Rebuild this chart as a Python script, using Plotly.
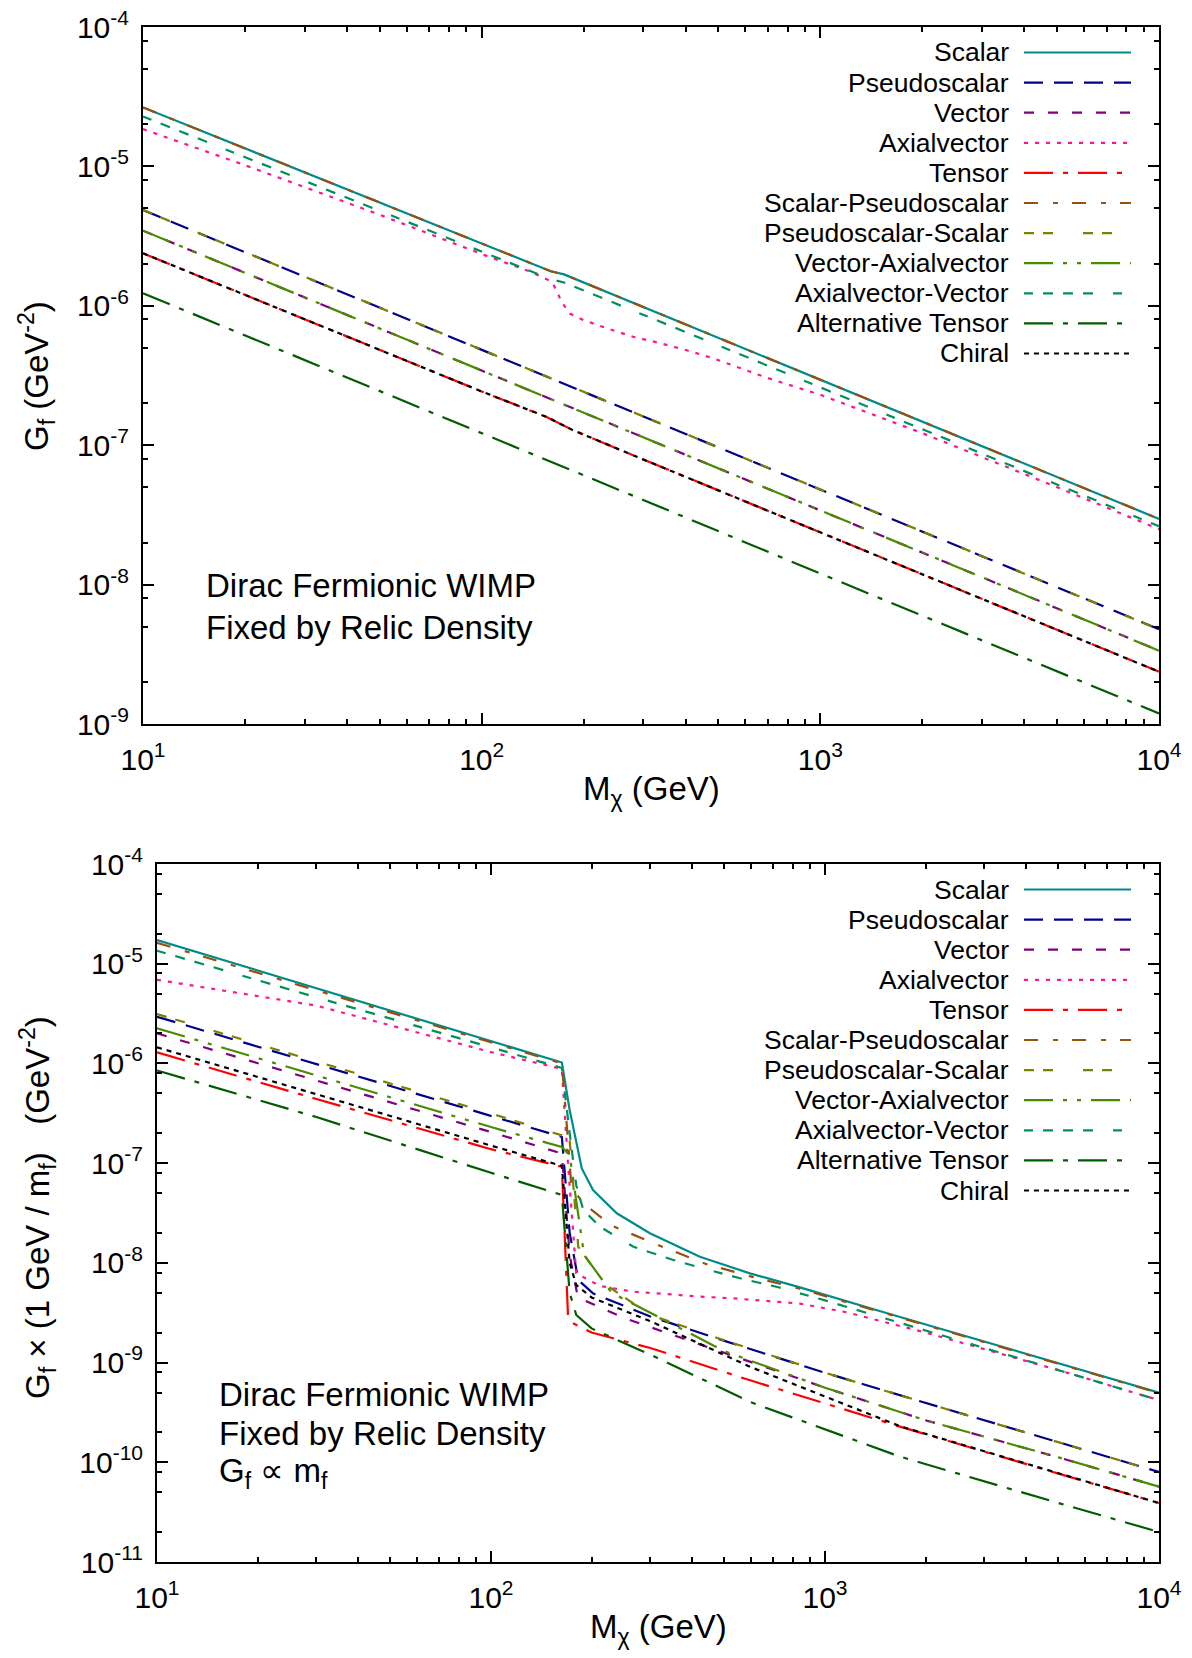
import plotly.graph_objects as go

# ---------------- data: top panel (G_f fixed by relic density) ----------------
names = ["Scalar", "Pseudoscalar", "Vector", "Axialvector", "Tensor",
         "Scalar-Pseudoscalar", "Pseudoscalar-Scalar", "Vector-Axialvector",
         "Axialvector-Vector", "Alternative Tensor", "Chiral"]

top_m_scalar = [10, 20, 50, 100, 160, 175, 200, 500, 1000, 2000, 5000, 10000]
top_scalar = [2.65e-5, 1.35e-5, 5.5e-6, 2.8e-6, 1.77e-6, 1.68e-6, 1.47e-6, 5.9e-7, 2.95e-7, 1.48e-7, 5.9e-8, 2.96e-8]
top_scalar_pseudo = [2.65e-5, 1.35e-5, 5.5e-6, 2.8e-6, 1.77e-6, 1.68e-6, 1.47e-6, 5.9e-7, 2.95e-7, 1.48e-7, 5.9e-8, 2.96e-8]
top_axial_vector = [2.28e-5, 1.17e-5, 4.8e-6, 2.45e-6, 1.55e-6, 1.47e-6, 1.29e-6, 5.2e-7, 2.6e-7, 1.3e-7, 5.2e-8, 2.62e-8]

top_m_axial = [10, 20, 50, 100, 139, 161, 166, 172, 182, 200, 234, 280, 336, 403, 483, 579, 694, 832, 1000, 2000, 5000, 10000]
top_axial = [1.85e-5, 1.02e-5, 4.5e-6, 2.35e-6, 1.76e-6, 1.49e-6, 1.30e-6, 1.07e-6, 8.8e-7, 7.9e-7, 6.9e-7, 6.0e-7,
             5.4e-7, 4.8e-7, 4.2e-7, 3.6e-7, 3.05e-7, 2.65e-7, 2.3e-7, 1.22e-7, 5.0e-8, 2.5e-8]

top_m_low = [10, 30, 100, 160, 180, 300, 1000, 3000, 10000]
top_pseudo = [4.86e-6, 1.62e-6, 4.85e-7, 3.03e-7, 2.69e-7, 1.61e-7, 4.8e-8, 1.6e-8, 4.78e-9]
top_pseudo_scalar = [4.86e-6, 1.62e-6, 4.85e-7, 3.03e-7, 2.69e-7, 1.61e-7, 4.8e-8, 1.6e-8, 4.78e-9]
top_vector = [3.46e-6, 1.15e-6, 3.45e-7, 2.15e-7, 1.9e-7, 1.14e-7, 3.4e-8, 1.13e-8, 3.36e-9]
top_vector_axial = [3.46e-6, 1.15e-6, 3.45e-7, 2.15e-7, 1.9e-7, 1.14e-7, 3.4e-8, 1.13e-8, 3.36e-9]

top_m_tensor = [10, 30, 100, 155, 185, 300, 1000, 3000, 10000]
top_tensor = [2.38e-6, 8.0e-7, 2.43e-7, 1.6e-7, 1.29e-7, 7.9e-8, 2.37e-8, 7.9e-9, 2.37e-9]
top_chiral = [2.38e-6, 8.0e-7, 2.43e-7, 1.6e-7, 1.29e-7, 7.9e-8, 2.37e-8, 7.9e-9, 2.37e-9]

top_m_alt = [10, 30, 100, 300, 1000, 3000, 10000]
top_alt_tensor = [1.23e-6, 4.1e-7, 1.22e-7, 4.05e-8, 1.2e-8, 4.0e-9, 1.19e-9]

# ---------------- data: bottom panel (G_f x (1 GeV / m_f)) ----------------
bot_m_scalar = [10, 30, 100, 163, 172, 187, 202, 238, 299, 422, 596, 841, 1500, 3000, 6000, 10000]
bot_scalar = [1.73e-5, 5.7e-6, 1.68e-6, 1.02e-6, 3.4e-7, 8.85e-8, 5.37e-8, 3.14e-8, 1.98e-8, 1.15e-8, 7.85e-9,
              5.68e-9, 3.2e-9, 1.62e-9, 8.2e-10, 5.0e-10]
bot_m_sp = [10, 30, 100, 163, 170, 174, 189, 230, 313, 442, 610, 841, 1500, 3000, 6000, 10000]
bot_scalar_pseudo = [1.62e-5, 5.4e-6, 1.62e-6, 1.0e-6, 1.7e-7, 5.8e-8, 3.95e-8, 2.36e-8, 1.53e-8, 9.7e-9, 7.2e-9,
                     5.5e-9, 3.15e-9, 1.6e-9, 8.1e-10, 4.95e-10]
bot_m_av = [10, 30, 100, 163, 172, 180, 189, 212, 267, 348, 442, 557, 725, 1000, 2000, 5000, 10000]
bot_axial_vector = [1.35e-5, 4.6e-6, 1.45e-6, 9.0e-7, 2e-7, 6e-8, 3.39e-8, 2.3e-8, 1.45e-8, 1.08e-8, 8.6e-9, 7.0e-9,
                    5.7e-9, 4.2e-9, 2.1e-9, 8.4e-10, 4.2e-10]
bot_m_axial = [10, 30, 100, 163, 170, 180, 212, 267, 336, 422, 530, 841, 1157, 2000, 5000, 10000]
bot_axial = [6.9e-6, 3.8e-6, 1.3e-6, 8.8e-7, 1e-7, 7.85e-9, 5.86e-9, 5.14e-9, 4.87e-9, 4.58e-9, 4.41e-9, 3.9e-9,
             3.2e-9, 2.0e-9, 8.4e-10, 4.2e-10]
bot_m_pseudo = [10, 30, 100, 163, 172, 182.5, 202, 300, 500, 1000, 2254, 5000, 10000]
bot_pseudo = [2.94e-6, 9.9e-7, 3.0e-7, 1.83e-7, 2e-8, 6.73e-9, 4.94e-9, 2.9e-9, 1.65e-9, 7.9e-10, 3.5e-10, 1.6e-10, 8.0e-11]
bot_m_ps = [10, 30, 100, 163, 172, 182.5, 198, 225, 300, 500, 1000, 2254, 5000, 10000]
bot_pseudo_scalar = [3.13e-6, 1.05e-6, 3.15e-7, 1.9e-7, 1.7e-7, 1.45e-8, 9.9e-9, 5.77e-9, 3.0e-9, 1.67e-9, 7.9e-10,
                     3.5e-10, 1.6e-10, 8.0e-11]
bot_m_vector = [10, 30, 100, 163, 172, 182, 250, 500, 1000, 1990, 5000, 10000]
bot_vector = [2.0e-6, 6.8e-7, 2.05e-7, 1.25e-7, 1.2e-8, 4.5e-9, 2.8e-9, 1.25e-9, 5.6e-10, 2.65e-10, 1.12e-10, 5.7e-11]
bot_m_va = [10, 30, 100, 163, 172, 190, 230, 500, 1000, 1990, 5000, 10000]
bot_vector_axial = [2.25e-6, 7.6e-7, 2.3e-7, 1.45e-7, 1.2e-7, 1.2e-8, 5e-9, 1.3e-9, 5.6e-10, 2.65e-10, 1.12e-10, 5.7e-11]
bot_m_tensor = [10, 30, 100, 163, 170, 175, 200, 300, 600, 1677, 5000, 10000]
bot_tensor = [1.29e-6, 4.4e-7, 1.38e-7, 9.2e-8, 3e-9, 2.5e-9, 2.0e-9, 1.4e-9, 6.6e-10, 2.28e-10, 7.7e-11, 3.9e-11]
bot_m_chiral = [10, 30, 100, 163, 172, 180, 200, 300, 600, 1677, 5000, 10000]
bot_chiral = [1.45e-6, 4.9e-7, 1.5e-7, 9.4e-8, 1e-8, 6e-9, 4.5e-9, 2.6e-9, 9e-10, 2.3e-10, 7.7e-11, 3.9e-11]
bot_m_alt = [10, 30, 100, 163, 172, 180, 200, 300, 600, 1677, 5000, 10000]
bot_alt_tensor = [8.5e-7, 2.9e-7, 8e-8, 4.8e-8, 5e-9, 3e-9, 2.2e-9, 1.2e-9, 4.0e-10, 1.14e-10, 3.9e-11, 2.0e-11]

x_tickvals = [10, 100, 1000, 10000]
x_ticktext = ["10<sup>1</sup>", "10<sup>2</sup>", "10<sup>3</sup>", "10<sup>4</sup>"]
top_y_exps = [-9, -8, -7, -6, -5, -4]
bot_y_exps = [-11, -10, -9, -8, -7, -6, -5, -4]

# ---------------- styles ----------------
colors = ["#008b8b", "#00008b", "#800080", "#ff1493", "#ff0000", "#9a4f0a",
          "#808000", "#4a8c00", "#00905a", "#005c00", "#000000"]
dashes = ["solid", "19px,11px", "10px,14px", "4px,7px", "29px,10px,5px,10px",
          "14px,15px,5px,14px", "10px,9px,10px,30px", "29px,10px,4px,10px,4px,10px",
          "9px,10px,10px,10px,10px,10px,10px,20px", "29px,10px,5px,10px", "5px,5px"]

top_series = [(top_m_scalar, top_scalar), (top_m_low, top_pseudo), (top_m_low, top_vector),
              (top_m_axial, top_axial), (top_m_tensor, top_tensor), (top_m_scalar, top_scalar_pseudo),
              (top_m_low, top_pseudo_scalar), (top_m_low, top_vector_axial), (top_m_scalar, top_axial_vector),
              (top_m_alt, top_alt_tensor), (top_m_tensor, top_chiral)]
bot_series = [(bot_m_scalar, bot_scalar), (bot_m_pseudo, bot_pseudo), (bot_m_vector, bot_vector),
              (bot_m_axial, bot_axial), (bot_m_tensor, bot_tensor), (bot_m_sp, bot_scalar_pseudo),
              (bot_m_ps, bot_pseudo_scalar), (bot_m_va, bot_vector_axial), (bot_m_av, bot_axial_vector),
              (bot_m_alt, bot_alt_tensor), (bot_m_chiral, bot_chiral)]

W, H = 1192, 1658
FONT = "Liberation Sans, Arial, Helvetica, sans-serif"
LW = 2.2


def px(x):
    return x / W


def py(y):
    return 1 - y / H


fig = go.Figure()
for i, (m, g) in enumerate(top_series):
    fig.add_trace(go.Scatter(x=m, y=g, mode="lines", name=names[i], showlegend=False,
                             line=dict(color=colors[i], width=LW, dash=dashes[i]),
                             xaxis="x", yaxis="y"))
for i, (m, g) in enumerate(bot_series):
    fig.add_trace(go.Scatter(x=m, y=g, mode="lines", name=names[i], showlegend=False,
                             line=dict(color=colors[i], width=LW, dash=dashes[i]),
                             xaxis="x2", yaxis="y2"))

x_minor = [k * 10 ** e for e in range(1, 4) for k in range(2, 10)]


def y_minor(exps):
    return [k * 10.0 ** e for e in exps[:-1] for k in (2, 5, 8)]


def axis_common():
    return dict(type="log", showline=True, linecolor="black", linewidth=2, mirror="ticks",
                ticks="inside", ticklen=11, tickwidth=1.5, tickcolor="black",
                showgrid=False, zeroline=False, automargin=False,
                tickfont=dict(family=FONT, size=30, color="black"))


def minor_axis(vals):
    return dict(ticks="inside", ticklen=5, tickwidth=1.5, tickcolor="black",
                tickmode="array", tickvals=vals, showgrid=False)


xa_top = axis_common()
xa_top.update(range=[1, 4], tickmode="array", tickvals=x_tickvals, ticktext=x_ticktext,
              ticklabelstandoff=8, minor=minor_axis(x_minor),
              domain=[px(143), px(1159)], anchor="y")
xa_bot = axis_common()
xa_bot.update(range=[1, 4], tickmode="array", tickvals=x_tickvals, ticktext=x_ticktext,
              ticklabelstandoff=8, minor=minor_axis(x_minor),
              domain=[px(157), px(1159)], anchor="y2")

ya_top = axis_common()
ya_top.update(range=[-9, -4], tickmode="array", tickvals=[10.0 ** e for e in top_y_exps],
              ticktext=["10<sup>%d</sup>" % e for e in top_y_exps], ticklabelstandoff=6,
              minor=minor_axis(y_minor(top_y_exps)), domain=[py(724), py(27)], anchor="x")
ya_bot = axis_common()
ya_bot.update(range=[-11, -4], tickmode="array", tickvals=[10.0 ** e for e in bot_y_exps],
              ticktext=["10<sup>%d</sup>" % e for e in bot_y_exps], ticklabelstandoff=6,
              minor=minor_axis(y_minor(bot_y_exps)), domain=[py(1562), py(864)], anchor="x2")

annotations = []
shapes = []
# legends (text right-aligned, sample line on the right)
for panel_top in (27, 864):
    for i, n in enumerate(names):
        yy = panel_top + 25.5 + 30.1 * i
        annotations.append(dict(text=n, x=px(1011), y=py(yy), xref="paper", yref="paper",
                                xanchor="right", yanchor="middle", showarrow=False,
                                font=dict(family=FONT, size=26.5, color="black")))
        shapes.append(dict(type="line", xref="paper", yref="paper", x0=px(1024), x1=px(1131),
                           y0=py(yy), y1=py(yy), line=dict(color=colors[i], width=LW, dash=dashes[i])))

txt_font = dict(family=FONT, size=33, color="black")
for t, x, y in [("Dirac Fermionic WIMP", 204, 585), ("Fixed by Relic Density", 204, 627),
                ("Dirac Fermionic WIMP", 217, 1394), ("Fixed by Relic Density", 217, 1433),
                ("G<sub>f</sub> \u221d m<sub>f</sub>", 217, 1473)]:
    annotations.append(dict(text=t, x=px(x), y=py(y), xref="paper", yref="paper", xanchor="left",
                            yanchor="middle", showarrow=False, font=txt_font))

# axis titles
annotations.append(dict(text="M<sub>\u03c7</sub> (GeV)", x=px(651), y=py(791), xref="paper", yref="paper",
                        xanchor="center", yanchor="middle", showarrow=False, font=txt_font))
annotations.append(dict(text="M<sub>\u03c7</sub> (GeV)", x=px(658), y=py(1629), xref="paper", yref="paper",
                        xanchor="center", yanchor="middle", showarrow=False, font=txt_font))
annotations.append(dict(text="G<sub>f</sub> (GeV<sup>-2</sup>)", x=px(37), y=py(376), xref="paper",
                        yref="paper", xanchor="center", yanchor="middle", textangle=-90, showarrow=False,
                        font=txt_font))
annotations.append(dict(text="G<sub>f</sub> \u00d7 (1 GeV / m<sub>f</sub>)\u00a0\u00a0\u00a0(GeV<sup>-2</sup>)",
                        x=px(37), y=py(1208), xref="paper", yref="paper", xanchor="center",
                        yanchor="middle", textangle=-90, showarrow=False, font=txt_font))

fig.update_layout(template="none", width=W, height=H, margin=dict(l=0, r=0, t=0, b=0, pad=0),
                  paper_bgcolor="white", plot_bgcolor="white", showlegend=False,
                  xaxis=xa_top, yaxis=ya_top, xaxis2=xa_bot, yaxis2=ya_bot,
                  annotations=annotations, shapes=shapes)

fig.write_html("out.html")
